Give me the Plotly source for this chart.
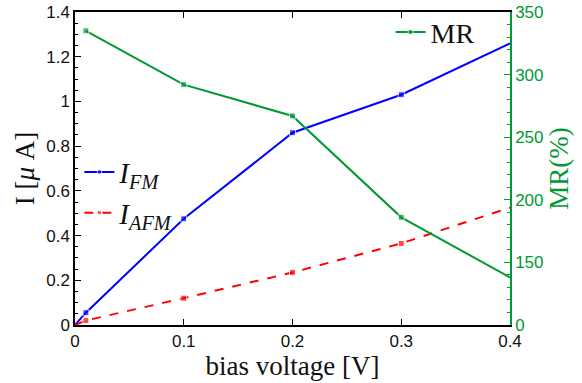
import plotly.graph_objects as go

bias = [0.0, 0.01, 0.1, 0.2, 0.3, 0.4]
i_fm = [0.0, 0.055, 0.475, 0.86, 1.03, 1.26]
i_afm = [0.0, 0.02, 0.12, 0.235, 0.365, 0.525]
bias_mr = [0.01, 0.1, 0.2, 0.3, 0.4]
mr = [335, 292, 267, 186, 138]

x_ticks = [0, 0.1, 0.2, 0.3, 0.4]
y_ticks = [0, 0.2, 0.4, 0.6, 0.8, 1.0, 1.2, 1.4]
y_ticktext = ["0", "0.2", "0.4", "0.6", "0.8", "1", "1.2", "1.4"]
mr_ticks = [100, 150, 200, 250, 300, 350]
mr_ticktext = ["0", "150", "200", "250", "300", "350"]

GREEN = "rgb(0,153,51)"
tickfont = dict(family="Liberation Sans, Arial", size=17, color="#111")
serif = "Liberation Serif, DejaVu Serif, serif"

fig = go.Figure()
fig.add_trace(go.Scatter(
    x=bias, y=i_fm, mode="lines+markers", name="<i>I</i><sub><i>FM</i></sub>",
    line=dict(color="#0000ff", width=2),
    marker=dict(symbol="square", size=[0, 6, 6, 6, 6, 0], color="#0000ff"),
    legend="legend"))
fig.add_trace(go.Scatter(
    x=bias, y=i_afm, mode="lines+markers", name="<i>I</i><sub><i>AFM</i></sub>",
    line=dict(color="#ff0000", width=2, dash="dash"),
    marker=dict(symbol="square", size=[0, 6, 6, 6, 6, 0], color="#ff0000"),
    legend="legend"))
fig.add_trace(go.Scatter(
    x=bias_mr, y=mr, mode="lines+markers", name="MR",
    line=dict(color=GREEN, width=2),
    marker=dict(symbol="square", size=[6, 6, 6, 6, 0], color=GREEN),
    yaxis="y2", legend="legend2"))

fig.update_layout(
    width=582, height=383,
    margin=dict(l=75, r=72, t=12, b=58, autoexpand=False),
    paper_bgcolor="white", plot_bgcolor="white",
    xaxis=dict(range=[0, 0.4], tickvals=x_ticks, ticktext=["0", "0.1", "0.2", "0.3", "0.4"],
               ticks="inside", ticklen=6, tickcolor="black", showline=True, linecolor="black",
               linewidth=1.5, mirror="ticks", showgrid=False, zeroline=False, tickfont=tickfont,
               automargin=False,
               title=dict(text="bias voltage [V]", font=dict(family=serif, size=27, color="#111"), standoff=0)),
    yaxis=dict(range=[0, 1.4], tickvals=y_ticks, ticktext=y_ticktext,
               ticks="inside", ticklen=6, tickcolor="black", showline=True, linecolor="black",
               linewidth=1.5, showgrid=False, zeroline=False, tickfont=tickfont, automargin=False,
               minor=dict(ticks="inside", ticklen=3, dtick=0.05, tick0=0, tickcolor="black"),
               title=dict(text="I [<i>μ</i> A]", font=dict(family=serif, size=27, color="#111"), standoff=4)),
    yaxis2=dict(range=[100, 350], overlaying="y", side="right", tickmode="array",
                tickvals=mr_ticks, ticktext=mr_ticktext,
                ticks="inside", ticklen=6, tickcolor=GREEN, showline=True, linecolor=GREEN,
                linewidth=1.5, showgrid=False, zeroline=False, automargin=False,
                tickfont=dict(family="Liberation Sans, Arial", size=17, color=GREEN),
                minor=dict(ticks="inside", ticklen=3, tickmode="linear", tick0=100, dtick=10, tickcolor=GREEN),
                title=dict(text="MR(%)", font=dict(family=serif, size=27, color=GREEN), standoff=6)),
    legend=dict(x=0.01, y=0.57, xanchor="left", yanchor="top", bgcolor="rgba(0,0,0,0)",
                font=dict(family=serif, size=29, color="#111"), tracegroupgap=0, itemwidth=30),
    legend2=dict(x=0.93, y=1.015, xanchor="right", yanchor="top", bgcolor="rgba(0,0,0,0)",
                 font=dict(family=serif, size=28, color="#111"), itemwidth=30),
    showlegend=True,
)

fig.write_html("out.html")
